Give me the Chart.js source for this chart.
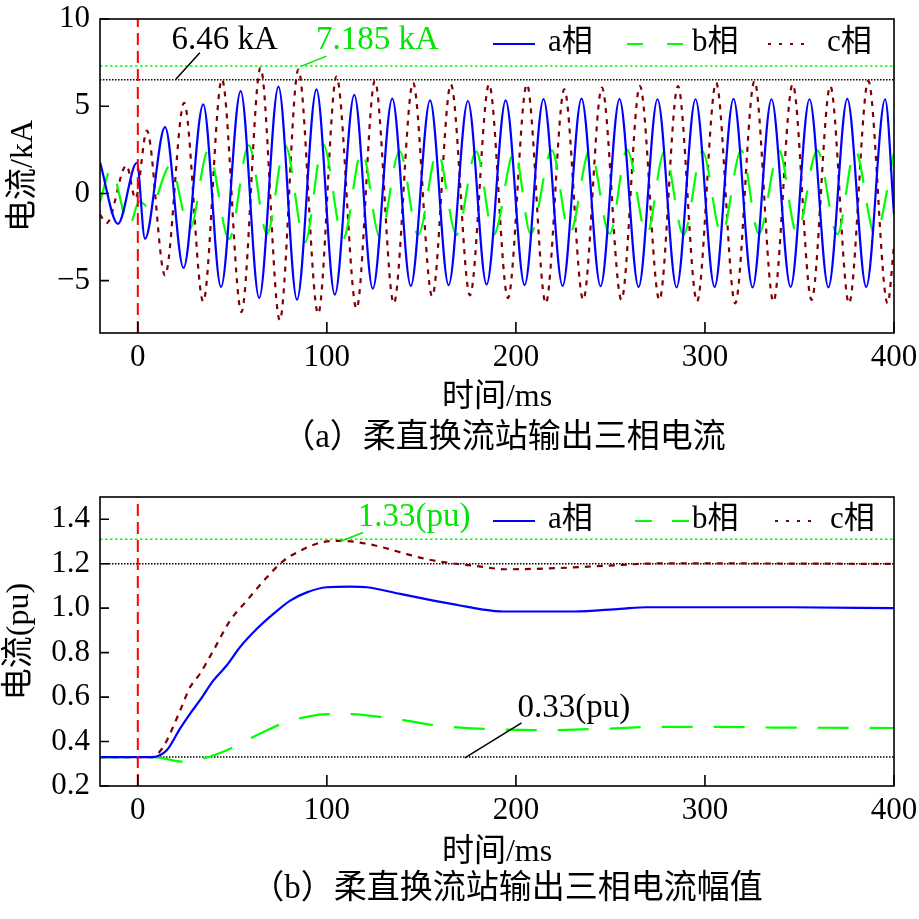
<!DOCTYPE html>
<html>
<head>
<meta charset="utf-8">
<script src="https://cdn.jsdelivr.net/npm/chart.js@4.4.1/dist/chart.umd.min.js"></script>
<style>
  html, body { margin: 0; padding: 0; background: #fff; }
  canvas { display: block; }
</style>
</head>
<body>
<canvas id="chart1" width="919" height="460"></canvas>
<canvas id="chart2" width="919" height="459"></canvas>
<script>
// shared axis
const timeRange = [-20, 400];
const xTicks = [0, 100, 200, 300, 400];
const faultTime = 0;

// (a) instantaneous currents, kA: extremes
const timeA = [-20, -10.5, -0.5, 3.8, 14.4, 24.2, 34.6, 44.0, 54.4, 64.2, 74.4, 84.2, 94.5, 104.2, 114.5, 124.3, 134.6, 144.4, 154.6, 164.4, 174.6, 184.5, 194.6, 204.6, 214.6, 224.7, 234.7, 244.8, 254.8, 264.9, 274.9, 285.0, 295.0, 305.1, 315.1, 325.2, 335.2, 345.3, 355.3, 365.3, 375.3, 385.3, 395.3, 400];
const currentA = [1.78, -1.74, 1.76, -2.6, 3.8, -4.27, 5.11, -5.36, 5.87, -5.99, 6.12, -6.09, 5.97, -5.8, 5.65, -5.46, 5.44, -5.3, 5.34, -5.25, 5.3, -5.22, 5.34, -5.25, 5.41, -5.3, 5.44, -5.32, 5.41, -5.36, 5.4, -5.38, 5.4, -5.36, 5.42, -5.38, 5.4, -5.36, 5.4, -5.38, 5.42, -5.36, 5.4, -1.2];

const timeB = [-20, -14.3, -4.5, 0.8, 6.5, 17.2, 27.5, 37.2, 48.3, 58.7, 68.3, 78, 88.4, 98, 108.6, 118.5, 128, 138.5, 148.3, 158.5, 168.6, 179, 188.2, 199.3, 207.8, 219, 228.4, 239.2, 249.6, 258.8, 269.2, 278.5, 288.7, 298.6, 308.8, 319.2, 328.5, 339.2, 348.6, 359.4, 370, 379.4, 390, 400];
const currentB = [-0.5, 1.35, -1.85, -0.45, -0.85, 1.6, -2.05, 2.45, -2.6, 2.75, -2.3, 2.75, -2.8, 2.83, -2.6, 2.45, -2.5, 2.42, -2.37, 2.4, -2.37, 2.4, -2.37, 2.45, -2.31, 2.47, -2.3, 2.5, -2.31, 2.5, -2.36, 2.4, -2.36, 2.42, -2.36, 2.47, -2.31, 2.47, -2.3, 2.47, -2.34, 2.47, -2.36, 2.3];

const timeC = [-20, -16.5, -6, -1.2, 4.8, 14.4, 24.5, 34.6, 44.5, 54.8, 64.9, 75.1, 84.9, 95.4, 105.1, 115.7, 125.4, 135.4, 145.6, 155.7, 165.6, 175.7, 185.8, 195.8, 205.8, 215.8, 225.6, 235.6, 245.5, 255.8, 265.6, 275.9, 285.7, 295.8, 305.9, 316.0, 326.2, 336.2, 346.4, 356.4, 366.3, 376.2, 386.4, 396.6, 400];
const currentC = [-1.2, -1.7, 1.6, -0.3, 3.6, -4.7, 5.2, -6.2, 6.54, -6.8, 7.2, -7.27, 7.1, -6.9, 6.7, -6.6, 6.45, -6.3, 6.35, -5.9, 6.26, -5.84, 6.26, -6.0, 6.26, -6.3, 5.97, -6.1, 6.07, -6.1, 6.16, -6.1, 6.16, -6.2, 6.35, -6.3, 6.45, -6.2, 6.26, -6.1, 6.16, -6.3, 6.45, -6.3, -3.0];

const rangeKA = [-8, 10];
const ticksKA = [-5, 0, 5, 10];
const markerKA = [6.52, 7.3];   // black dotted, green dotted

// (b) amplitudes, pu
const timeAmpA = [-20, 7.4, 15.3, 22.4, 27.7, 32.9, 40, 47.1, 54.1, 63, 71.7, 80.6, 89.4, 100, 112.3, 121.2, 138.8, 156.4, 170.5, 181, 193.4, 230.5, 255.2, 269.3, 345.1, 400];
const ampA = [0.33, 0.33, 0.361, 0.459, 0.526, 0.586, 0.675, 0.743, 0.825, 0.907, 0.974, 1.034, 1.071, 1.094, 1.097, 1.094, 1.064, 1.034, 1.012, 0.996, 0.985, 0.985, 0.997, 1.004, 1.004, 1.0];

const timeAmpB = [-20, 8.3, 24.1, 34.7, 47.1, 57.7, 68.3, 78.8, 89.4, 100, 112.3, 124.7, 138.8, 156.4, 170.5, 191.7, 212.9, 248.1, 274.6, 301, 336.3, 400];
const ampB = [0.33, 0.33, 0.309, 0.324, 0.361, 0.406, 0.451, 0.488, 0.511, 0.523, 0.523, 0.514, 0.499, 0.474, 0.463, 0.454, 0.451, 0.458, 0.466, 0.466, 0.463, 0.461];

const timeAmpC = [-20, 7.4, 13.5, 17.1, 22.4, 27.7, 32.9, 40, 48.8, 57.7, 68.3, 77, 85.9, 96.5, 107, 117.6, 129.9, 142.3, 152.9, 167, 177.6, 195.2, 221.7, 248.1, 274.6, 318.7, 400];
const ampC = [0.33, 0.33, 0.376, 0.436, 0.54, 0.645, 0.705, 0.81, 0.944, 1.034, 1.139, 1.213, 1.258, 1.295, 1.303, 1.295, 1.273, 1.243, 1.22, 1.201, 1.191, 1.175, 1.18, 1.191, 1.201, 1.201, 1.199];

const rangePU = [0.2, 1.5];
const ticksPU = [0.2, 0.4, 0.6, 0.8, 1.0, 1.2, 1.4];
const markerPU = [1.31, 1.2, 0.33];   // green dotted, black dotted, black dotted

const phaseNames = ['a相', 'b相', 'c相'];

const BLUE = '#0000ff', GREEN = '#00ff00', BROWN = '#800000', RED = '#ff0000';
const SERIF = '"Liberation Serif", "Noto Sans CJK SC", serif';

const pts = (xs, ys) => xs.map((x, i) => ({ x, y: ys[i] }));
const hline = (v) => [{ x: timeRange[0], y: v }, { x: timeRange[1], y: v }];
const vline = (t, r) => [{ x: t, y: r[0] }, { x: t, y: r[1] }];

function phaseSet(label, data, color, dash, order) {
  return { label, data, borderColor: color, borderDash: dash, borderWidth: 2.2, cubicInterpolationMode: 'monotone', order };
}
function markSet(data, color, dash, order) {
  return { data, borderColor: color, borderDash: dash, borderWidth: 1.5, order };
}

// frame, inward ticks, legend, notes, titles
const decor = {
  id: 'decor',
  afterDraw(chart, args, o) {
    const { ctx, chartArea: a, scales: { x, y } } = chart;
    ctx.save();
    ctx.strokeStyle = '#000';
    ctx.lineWidth = 1.6;
    ctx.setLineDash([]);
    ctx.strokeRect(a.left, a.top, a.right - a.left, a.bottom - a.top);
    ctx.beginPath();
    x.ticks.forEach(t => {
      const px = x.getPixelForValue(t.value);
      ctx.moveTo(px, a.bottom); ctx.lineTo(px, a.bottom - 11);
    });
    y.ticks.forEach(t => {
      const py = y.getPixelForValue(t.value);
      ctx.moveTo(a.left, py); ctx.lineTo(a.left + 9, py);
    });
    ctx.stroke();

    // legend
    const ly = a.top + o.legendDy;
    ctx.font = '31px ' + SERIF;
    ctx.textAlign = 'left';
    ctx.textBaseline = 'middle';
    o.legend.forEach((item, i) => {
      const ds = chart.data.datasets[i];
      ctx.strokeStyle = ds.borderColor;
      ctx.lineWidth = 2.2;
      ctx.setLineDash(item.dash);
      ctx.beginPath(); ctx.moveTo(item.x0, ly); ctx.lineTo(item.x1, ly); ctx.stroke();
      ctx.fillStyle = '#000';
      ctx.fillText(ds.label, item.tx, ly - 1);
    });

    // value notes with leader lines
    ctx.setLineDash([]);
    ctx.lineWidth = 1.5;
    ctx.font = '33px ' + SERIF;
    ctx.textAlign = 'center';
    ctx.textBaseline = 'alphabetic';
    o.notes.forEach(n => {
      ctx.fillStyle = n.color;
      ctx.strokeStyle = n.color;
      ctx.fillText(n.text, x.getPixelForValue(n.at[0]), y.getPixelForValue(n.at[1]));
      ctx.beginPath();
      ctx.moveTo(x.getPixelForValue(n.from[0]), y.getPixelForValue(n.from[1]));
      ctx.lineTo(x.getPixelForValue(n.to[0]), y.getPixelForValue(n.to[1]));
      ctx.stroke();
    });

    // axis titles and caption
    ctx.fillStyle = '#000';
    ctx.textBaseline = 'middle';
    ctx.font = '32px ' + SERIF;
    ctx.fillText(o.xTitle, (a.left + a.right) / 2, a.bottom + o.xTitleDy);
    ctx.save();
    ctx.translate(o.yTitleX, (a.top + a.bottom) / 2);
    ctx.rotate(-Math.PI / 2);
    ctx.fillText(o.yTitle, 0, 0);
    ctx.restore();
    ctx.font = '33px ' + SERIF;
    ctx.fillText(o.caption, o.captionX, a.bottom + o.captionDy);
    ctx.restore();
  }
};

function buildChart(id, cfg) {
  const tickFont = { family: SERIF, size: 31, lineHeight: 1 };
  return new Chart(document.getElementById(id), {
    type: 'line',
    data: { datasets: cfg.datasets },
    options: {
      responsive: false,
      animation: false,
      events: [],
      layout: { padding: { top: cfg.padTop, right: 25, left: 0, bottom: 0 } },
      elements: { point: { radius: 0 } },
      scales: {
        x: {
          type: 'linear',
          min: timeRange[0],
          max: timeRange[1],
          grid: { display: false, drawTicks: false },
          border: { display: false },
          afterBuildTicks: s => { s.ticks = xTicks.map(value => ({ value })); },
          afterFit: s => {
            s.height = cfg.xAxisHeight;
            s.paddingLeft = 0;
            s.paddingRight = 0;
          },
          ticks: { font: tickFont, color: '#000', padding: 9, maxRotation: 0, autoSkip: false }
        },
        y: {
          type: 'linear',
          min: cfg.range[0],
          max: cfg.range[1],
          grid: { display: false, drawTicks: false },
          border: { display: false },
          afterBuildTicks: s => { s.ticks = cfg.ticks.map(value => ({ value })); },
          afterFit: s => {
            s.width = 100;
            s.paddingTop = 0;
            s.paddingBottom = 0;
          },
          ticks: { font: tickFont, color: '#000', padding: 10, autoSkip: false, callback: cfg.fmt }
        }
      },
      plugins: { legend: { display: false }, tooltip: { enabled: false }, decor: cfg.decor }
    },
    plugins: [decor]
  });
}

buildChart('chart1', {
  padTop: 19,
  xAxisHeight: 127,
  range: rangeKA,
  ticks: ticksKA,
  fmt: v => (v < 0 ? '\u2212' + Math.abs(v) : String(v)),
  datasets: [
    phaseSet(phaseNames[0], pts(timeA, currentA), BLUE, [], 1),
    phaseSet(phaseNames[1], pts(timeB, currentB), GREEN, [30, 20], 2),
    phaseSet(phaseNames[2], pts(timeC, currentC), BROWN, [5, 6], 3),
    markSet(hline(markerKA[0]), '#000', [1.5, 1.5], 4),
    markSet(hline(markerKA[1]), GREEN, [2.5, 2.5], 4),
    { data: vline(faultTime, rangeKA), borderColor: RED, borderDash: [12, 6], borderWidth: 2, order: 0 }
  ],
  decor: {
    legendDy: 25,
    legend: [
      { x0: 493, x1: 535, tx: 548, dash: [] },
      { x0: 627, x1: 683, tx: 692, dash: [16, 24] },
      { x0: 768, x1: 812, tx: 827, dash: [3, 8] }
    ],
    notes: [
      { text: '6.46 kA', color: '#000', at: [46, 8.26], from: [32.8, 8.07], to: [20.1, 6.54] },
      { text: '7.185 kA', color: '#00e600', at: [126.7, 8.26], from: [99.8, 7.87], to: [86.6, 7.3] }
    ],
    xTitle: '时间/ms', xTitleDy: 65,
    yTitle: '电流/kA', yTitleX: 24,
    caption: '（a）柔直换流站输出三相电流', captionX: 504, captionDy: 105
  }
});

buildChart('chart2', {
  padTop: 37,
  xAxisHeight: 133,
  range: rangePU,
  ticks: ticksPU,
  fmt: v => v.toFixed(1),
  datasets: [
    phaseSet(phaseNames[0], pts(timeAmpA, ampA), BLUE, [], 1),
    phaseSet(phaseNames[1], pts(timeAmpB, ampB), GREEN, [31, 21], 2),
    phaseSet(phaseNames[2], pts(timeAmpC, ampC), BROWN, [6, 6], 3),
    markSet(hline(markerPU[0]), GREEN, [2.5, 2.5], 4),
    markSet(hline(markerPU[1]), '#000', [1.5, 1.5], 4),
    markSet(hline(markerPU[2]), '#000', [1.5, 1.5], 4),
    { data: vline(faultTime, rangePU), borderColor: RED, borderDash: [12, 6], borderWidth: 2, order: 0 }
  ],
  decor: {
    legendDy: 24,
    legend: [
      { x0: 493, x1: 535, tx: 548, dash: [] },
      { x0: 635, x1: 689, tx: 692, dash: [17, 20] },
      { x0: 775, x1: 817, tx: 830, dash: [3, 8] }
    ],
    notes: [
      { text: '1.33(pu)', color: '#00e600', at: [146.2, 1.37], from: [119.2, 1.34], to: [107, 1.30] },
      { text: '0.33(pu)', color: '#000', at: [230.7, 0.511], from: [203, 0.484], to: [173, 0.327] }
    ],
    xTitle: '时间/ms', xTitleDy: 67,
    yTitle: '电流(pu)', yTitleX: 20,
    caption: '（b）柔直换流站输出三相电流幅值', captionX: 507, captionDy: 103
  }
});
</script>
</body>
</html>
